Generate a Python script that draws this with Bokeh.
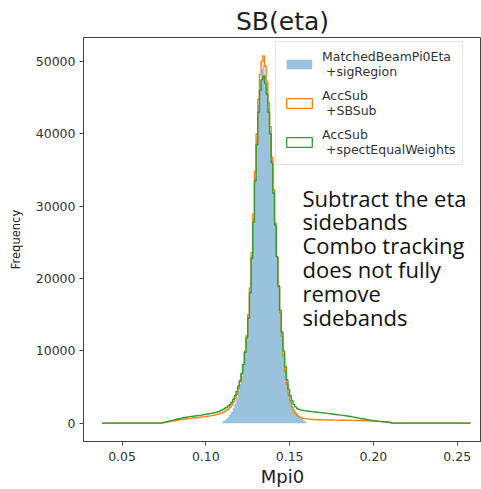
import numpy as np
from bokeh.plotting import figure
from bokeh.models import Range1d, FixedTicker, NumeralTickFormatter, Legend, LegendItem, Label
from bokeh.embed import file_html
from bokeh.resources import INLINE

# Histogram binning (Mpi0, GeV)
bin_start = 0.038
bin_width = 0.001
sig_start = 0.110

# MatchedBeamPi0Eta +sigRegion, bins from sig_start
sig_region = [
    250, 400, 600, 850, 1150, 1550, 2050, 2700,
    3500, 4400, 5400, 6600, 8000, 9800, 11900, 14700, 18300, 23200,
    28300, 34000, 39200, 44000, 47400, 49000, 49500, 48200, 46300, 43600,
    40400, 36400, 32000, 27500, 23000, 18900, 15400, 12300, 9600, 7400,
    5600, 4200, 3200, 2500, 1950, 1550, 1250, 1000, 780, 580,
    400, 220,
]

# AccSub +SBSub, bins from bin_start
sb_sub = [
    0, 0, 0, 0, 0, 0, 0, 0, 0, 0,
    0, 0, 0, 0, 0, 0, 0, 0, 0, 0,
    0, 0, 0, 0, 0, 0, 0, 0, 0, 0,
    0, 0, 0, 0, 0, 20, 50, 90, 130, 170,
    210, 250, 300, 340, 390, 430, 470, 510, 540, 570,
    600, 630, 660, 690, 710, 740, 760, 790, 810, 840,
    870, 900, 930, 960, 1000, 1040, 1080, 1130, 1180, 1240,
    1310, 1400, 1500, 1630, 1780, 1970, 2200, 2500, 2900, 3400,
    4000, 4800, 5700, 6800, 8100, 9900, 12100, 15000, 18700, 23600,
    28900, 34800, 40000, 44800, 48200, 50000, 50800, 49400, 47200, 44300,
    41000, 36800, 32300, 27700, 23000, 18800, 15200, 12000, 9300, 7100,
    5300, 3900, 2900, 2200, 1700, 1350, 1100, 920, 800, 720,
    660, 620, 590, 560, 540, 520, 500, 490, 480, 470,
    460, 455, 450, 445, 440, 435, 430, 425, 420, 415,
    410, 405, 400, 400, 395, 390, 390, 385, 380, 380,
    375, 370, 365, 360, 355, 350, 340, 330, 320, 310,
    300, 290, 280, 270, 260, 250, 240, 230, 210, 190,
    170, 140, 0, 0, 0, 0, 0, 0, 0, 0,
    0, 0, 0, 0, 0, 0, 0, 0, 0, 0,
    0, 0, 0, 0, 0, 0, 0, 0, 0, 0,
    0, 0, 0, 0, 0, 0, 0, 0, 0, 0,
    0, 0, 0, 0, 0, 0, 0, 0, 0, 0,
]

# AccSub +spectEqualWeights, bins from bin_start
equal_weights = [
    0, 0, 0, 0, 0, 0, 0, 0, 0, 0,
    0, 0, 0, 0, 0, 0, 0, 0, 0, 0,
    0, 0, 0, 0, 0, 0, 0, 0, 0, 0,
    0, 0, 0, 0, 0, 30, 80, 130, 180, 230,
    290, 350, 420, 480, 540, 600, 650, 700, 740, 780,
    820, 860, 900, 930, 960, 990, 1020, 1050, 1080, 1110,
    1150, 1190, 1230, 1270, 1310, 1350, 1400, 1450, 1510, 1580,
    1670, 1780, 1900, 2050, 2200, 2380, 2600, 2900, 3300, 3800,
    4400, 5100, 5900, 6900, 8100, 9800, 11800, 14500, 18000, 22800,
    27800, 33500, 38500, 43000, 46000, 47500, 48000, 47000, 45500, 43000,
    40000, 36000, 31800, 27400, 23000, 19000, 15600, 12600, 10000, 7800,
    6000, 4700, 3800, 3100, 2600, 2250, 2050, 1900, 1830, 1780,
    1740, 1700, 1670, 1640, 1610, 1590, 1560, 1540, 1510, 1490,
    1460, 1440, 1410, 1380, 1350, 1320, 1290, 1260, 1230, 1200,
    1170, 1140, 1110, 1080, 1050, 1020, 990, 950, 910, 870,
    830, 780, 740, 700, 650, 610, 570, 530, 490, 450,
    410, 370, 330, 300, 270, 240, 210, 190, 170, 150,
    130, 110, 80, 0, 0, 0, 0, 0, 0, 0,
    0, 0, 0, 0, 0, 0, 0, 0, 0, 0,
    0, 0, 0, 0, 0, 0, 0, 0, 0, 0,
    0, 0, 0, 0, 0, 0, 0, 0, 0, 0,
    0, 0, 0, 0, 0, 0, 0, 0, 0, 0,
]

x_ticks = [0.05, 0.10, 0.15, 0.20, 0.25]
y_ticks = [0, 10000, 20000, 30000, 40000, 50000]
legend_labels = ["MatchedBeamPi0Eta\n +sigRegion", "AccSub\n +SBSub", "AccSub\n +spectEqualWeights"]
note_lines = ["Subtract the eta", "sidebands", "Combo tracking", "does not fully", "remove", "sidebands"]

BLUE, ORANGE, GREEN = "#1f77b4", "#ff7f0e", "#2ca02c"
TXT = "#333333"
FONT = "DejaVu Sans"


def edges(start, counts):
    return start + bin_width * np.arange(len(counts) + 1)


ymax = max(max(sig_region), max(sb_sub), max(equal_weights))
p = figure(width=481, height=489, output_backend="svg", toolbar_location=None,
           x_range=Range1d(0.027, 0.2645), y_range=Range1d(-0.05 * ymax, 1.05 * ymax),
           min_border_left=83, min_border_right=0, min_border_top=37, min_border_bottom=48)
p.background_fill_color = "white"
p.border_fill_color = "white"
p.outline_line_color = "#444444"
p.outline_line_width = 1
p.xgrid.visible = False
p.ygrid.visible = False

p.title.text = "SB(eta)"
p.title.align = "center"
p.title.text_font = FONT
p.title.text_font_style = "normal"
p.title.text_font_size = "25px"
p.title.text_color = "#222222"
p.title.standoff = 4

for ax in (p.xaxis[0], p.yaxis[0]):
    ax.major_label_text_font = FONT
    ax.major_label_text_font_size = "12.5px"
    ax.major_label_text_color = TXT
    ax.axis_label_text_font = FONT
    ax.axis_label_text_font_style = "normal"
    ax.axis_label_text_color = "#222222"
    ax.axis_line_color = "#444444"
    ax.major_tick_line_color = "#444444"
    ax.major_tick_out = 4
    ax.major_tick_in = 0
    ax.minor_tick_line_color = None
    ax.major_label_standoff = 4

p.xaxis.ticker = FixedTicker(ticks=x_ticks)
p.xaxis.formatter = NumeralTickFormatter(format="0.00")
p.xaxis.axis_label = "Mpi0"
p.xaxis.axis_label_text_font_size = "18px"
p.xaxis.axis_label_standoff = 2
p.xaxis.major_label_standoff = 6

p.yaxis.ticker = FixedTicker(ticks=y_ticks)
p.yaxis.formatter = NumeralTickFormatter(format="0")
p.yaxis.axis_label = "Frequency"
p.yaxis.axis_label_text_font_size = "11.5px"
p.yaxis.axis_label_standoff = 10

# filled signal-region histogram (one stepped area, no seams between bins)
se = edges(sig_start, sig_region)
sig_y = sig_region + [0]
p.varea_step(x=se, y1=[0] * len(se), y2=sig_y, step_mode="after",
             fill_color=BLUE, fill_alpha=0.45)

# step outlines
be = edges(bin_start, sb_sub)
p.step(x=be, y=sb_sub + [sb_sub[-1]], mode="after", line_color=ORANGE, line_width=1.4)
ge = edges(bin_start, equal_weights)
p.step(x=ge, y=equal_weights + [equal_weights[-1]], mode="after", line_color=GREEN, line_width=1.4)

# legend swatches (off-canvas rectangles carrying only the styling)
nan = [np.nan]
sw_blue = p.quad(left=nan, right=nan, top=nan, bottom=nan, fill_color=BLUE, fill_alpha=0.45, line_color=None)
sw_orange = p.quad(left=nan, right=nan, top=nan, bottom=nan, fill_color=None, line_color=ORANGE, line_width=1.3)
sw_green = p.quad(left=nan, right=nan, top=nan, bottom=nan, fill_color=None, line_color=GREEN, line_width=1.3)

legend = Legend(items=[LegendItem(label=legend_labels[0], renderers=[sw_blue]),
                       LegendItem(label=legend_labels[1], renderers=[sw_orange]),
                       LegendItem(label=legend_labels[2], renderers=[sw_green])],
                location=(192, 276))
legend.label_text_font = FONT
legend.label_text_font_size = "12.5px"
legend.label_text_color = TXT
legend.label_text_line_height = 1.2
legend.glyph_width = 32
legend.glyph_height = 12
legend.label_standoff = 7
legend.spacing = 9
legend.padding = 7
legend.margin = 0
legend.border_line_color = "#cccccc"
legend.border_line_width = 1
legend.background_fill_alpha = 0.85
p.add_layout(legend)

for k, line in enumerate(note_lines):
    p.add_layout(Label(x=219, y=244 - 23.8 * k, x_units="screen", y_units="screen",
                       text=line, text_font="Open Sans", text_font_size="22px",
                       text_color="#111111", text_baseline="middle"))

open("out.html", "w").write(file_html(p, INLINE))
